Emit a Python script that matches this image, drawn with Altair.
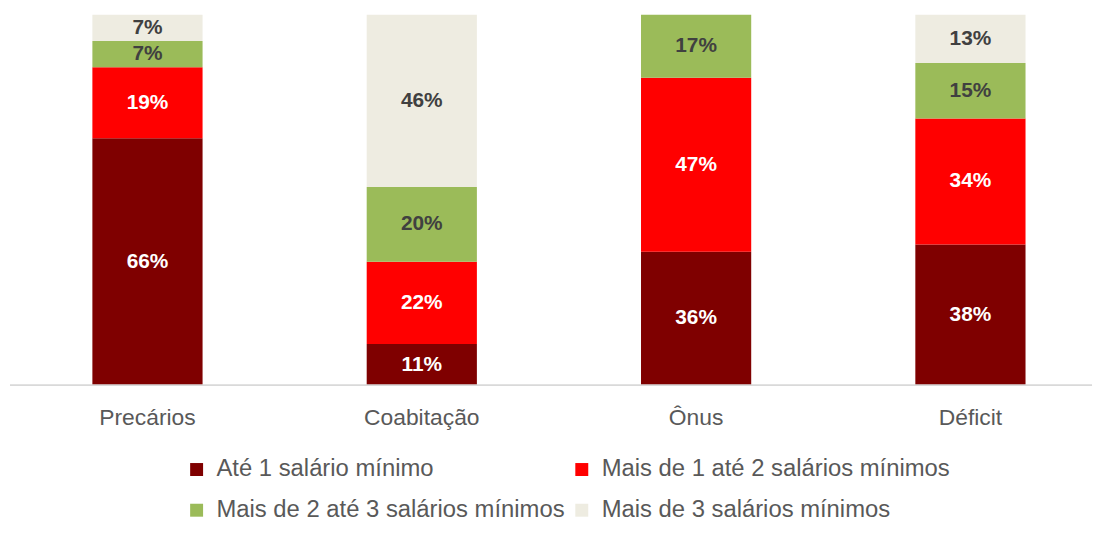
import altair as alt
import pandas as pd

categories = ["Precários", "Coabitação", "Ônus", "Déficit"]
series = ["Até 1 salário mínimo", "Mais de 1 até 2 salários mínimos",
          "Mais de 2 até 3 salários mínimos", "Mais de 3 salários mínimos"]
colors = ["#7F0000", "#FF0000", "#9BBB59", "#EEECE1"]
text_colors = ["#FFFFFF", "#FFFFFF", "#404040", "#404040"]

ate1 = [66, 11, 36, 38]
de1a2 = [19, 22, 47, 34]
de2a3 = [7, 20, 17, 15]
mais3 = [7, 46, 0, 13]

rows = []
for i, c in enumerate(categories):
    for j, (s, vals) in enumerate(zip(series, [ate1, de1a2, de2a3, mais3])):
        rows.append({"cat": c, "serie": s, "ord": j, "value": vals[i],
                     "label": f"{vals[i]}%", "tcolor": text_colors[j]})
df = pd.DataFrame(rows)

FONT = "Liberation Sans"

xscale = alt.Scale(range=[83, 1023], paddingInner=0.5983, paddingOuter=0)

x = alt.X("cat:N", sort=categories, title=None, scale=xscale,
          axis=alt.Axis(labelAngle=0, labelFontSize=23, labelColor="#595959",
                        labelFont=FONT, labelPadding=22, ticks=False,
                        domain=False, grid=False))

bars = alt.Chart(df).mark_bar().encode(
    x=x,
    y=alt.Y("value:Q", stack="normalize", axis=None, scale=alt.Scale(domain=[0, 1])),
    color=alt.Color("serie:N", sort=series,
                    scale=alt.Scale(domain=series, range=colors),
                    legend=alt.Legend(title=None, orient="none", legendX=176, legendY=446,
                                      columns=2, direction="horizontal",
                                      symbolType="square", symbolSize=170,
                                      symbolStrokeWidth=0, labelFontSize=24,
                                      labelColor="#595959", labelFont=FONT,
                                      labelOffset=8, rowPadding=17, columnPadding=5,
                                      labelLimit=500)),
    order=alt.Order("ord:Q", sort="ascending"),
)

text = alt.Chart(df).transform_joinaggregate(
    total="sum(value)", groupby=["cat"]
).transform_window(
    cum="sum(value)", groupby=["cat"], sort=[alt.SortField("ord", order="ascending")],
    frame=[None, 0]
).transform_calculate(
    mid="(datum.cum - datum.value/2) / datum.total"
).transform_filter("datum.value > 0").mark_text(
    fontSize=21, fontWeight="bold", font=FONT
).encode(
    x=x,
    y=alt.Y("mid:Q", scale=alt.Scale(domain=[0, 1]), axis=None),
    text="label:N",
    color=alt.Color("tcolor:N", scale=None, legend=None),
)

axis_line = alt.Chart(pd.DataFrame({"k": [0]})).mark_rule(
    color="#D9D9D9", strokeWidth=2
).encode(x=alt.value(0), x2=alt.value(1090), y=alt.value(373))

chart = alt.layer(bars, text, axis_line).properties(
    width=1090, height=373,
    background="white",
    autosize=alt.AutoSizeParams(type="none"),
    padding={"left": 2, "top": 5, "right": 5, "bottom": 140},
).configure_view(stroke="transparent", strokeWidth=0)

chart.save("out.html", embed_options={"renderer": "svg", "actions": False})
